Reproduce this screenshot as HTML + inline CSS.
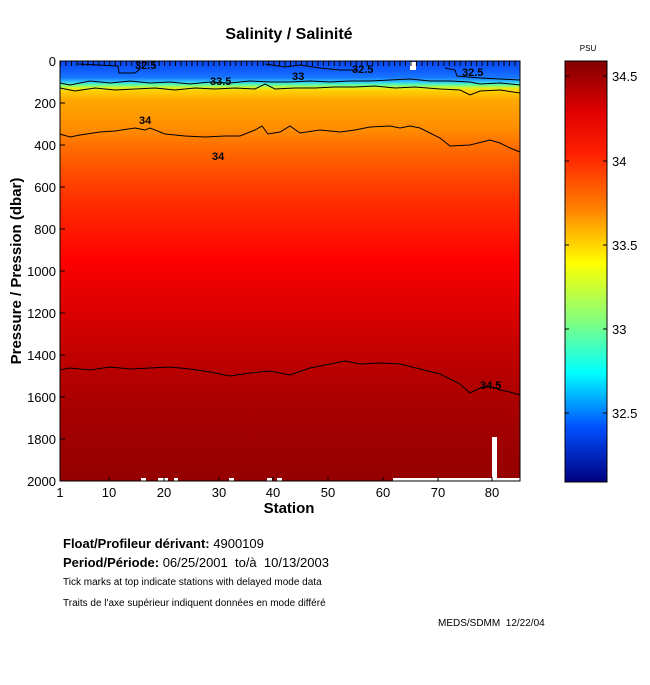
<!DOCTYPE html>
<html><head><meta charset="utf-8"><style>
body{margin:0;background:#fff;}
svg text{font-family:"Liberation Sans",sans-serif;white-space:pre;}
</style></head><body>
<svg width="650" height="680" viewBox="0 0 650 680" xmlns="http://www.w3.org/2000/svg">
<defs>
<linearGradient id="field" x1="0" y1="61" x2="0" y2="481" gradientUnits="userSpaceOnUse">
<stop offset="0" stop-color="#0a48f0"/>
<stop offset="0.025" stop-color="#1060ff"/>
<stop offset="0.04" stop-color="#1878ff"/>
<stop offset="0.05" stop-color="#30c8ff"/>
<stop offset="0.057" stop-color="#60ffa0"/>
<stop offset="0.064" stop-color="#e0f020"/>
<stop offset="0.071" stop-color="#ffd000"/>
<stop offset="0.093" stop-color="#ffa800"/>
<stop offset="0.164" stop-color="#ff8c00"/>
<stop offset="0.2" stop-color="#ff7000"/>
<stop offset="0.26" stop-color="#ff5000"/>
<stop offset="0.33" stop-color="#ff3000"/>
<stop offset="0.426" stop-color="#ff1000"/>
<stop offset="0.474" stop-color="#ff0000"/>
<stop offset="0.545" stop-color="#e80000"/>
<stop offset="0.64" stop-color="#d00000"/>
<stop offset="0.736" stop-color="#b80000"/>
<stop offset="0.855" stop-color="#a40000"/>
<stop offset="1" stop-color="#940000"/>
</linearGradient>
<linearGradient id="cb" x1="0" y1="61" x2="0" y2="482" gradientUnits="userSpaceOnUse">
<stop offset="0" stop-color="#800000"/>
<stop offset="0.12" stop-color="#e00000"/>
<stop offset="0.22" stop-color="#ff2000"/>
<stop offset="0.35" stop-color="#ff8000"/>
<stop offset="0.48" stop-color="#ffff00"/>
<stop offset="0.62" stop-color="#80ff80"/>
<stop offset="0.74" stop-color="#00ffff"/>
<stop offset="0.87" stop-color="#0050ff"/>
<stop offset="1" stop-color="#000080"/>
</linearGradient>
</defs>
<text x="289" y="39" font-size="16" font-weight="bold" text-anchor="middle">Salinity / Salinité</text>
<rect x="60" y="61" width="460" height="420" fill="url(#field)"/>
<rect x="492" y="437" width="5" height="44" fill="#fff"/>
<rect x="393" y="478" width="127" height="3" fill="#fff"/>
<rect x="141" y="478" width="5" height="3" fill="#fff"/>
<rect x="158" y="478" width="10" height="3" fill="#fff"/>
<rect x="174" y="478" width="4" height="3" fill="#fff"/>
<rect x="229" y="478" width="5" height="3" fill="#fff"/>
<rect x="267" y="478" width="5" height="3" fill="#fff"/>
<rect x="277" y="478" width="5" height="3" fill="#fff"/>
<rect x="410" y="62" width="6" height="8" fill="#fff"/>
<g fill="none" stroke="#000" stroke-width="1">
<polyline points="78,64 118,66 119,73 135,73 140,69"/>
<polyline points="265,64 285,67 300,65 320,68 340,70 358,70"/>
<polyline points="445,68 455,70 457,76 480,78 500,79 520,80"/>
<polyline points="60,83 70,85 90,81 110,83 130,81 150,83 170,82 190,84 210,82 230,83 250,81 270,82 290,82 310,81 330,82 350,81 370,81 390,80 410,79 430,81 450,81 470,82 480,84 500,83 520,85"/>
<polyline points="60,88 75,91 95,88 115,90 135,89 155,88 175,90 195,88 215,89 235,88 255,89 265,84 275,89 295,88 315,88 335,87 355,87 375,86 395,88 415,87 440,89 460,90 470,95 480,91 500,90 520,93"/>
<polyline points="60,134 70,137 80,135 100,132 115,131 135,128 145,130 150,128 165,134 185,136 205,137 225,136 240,136 255,130 262,126 268,134 280,132 290,126 300,133 320,130 340,132 355,130 370,127 390,126 400,128 410,126 420,128 440,138 450,146 470,145 490,140 500,143 510,148 520,152"/>
<polyline points="60,370 70,368 90,370 110,367 130,369 150,368 170,367 190,369 210,372 230,376 250,373 270,371 290,375 310,368 330,364 345,361 360,364 380,363 400,364 420,369 440,374 460,384 470,393 480,388 490,386 500,390 510,392 520,395"/>
</g>
<g font-size="11" font-weight="bold" fill="#000">
<text x="135" y="69">32.5</text>
<text x="210" y="85">33.5</text>
<text x="292" y="80">33</text>
<text x="352" y="73">32.5</text>
<text x="462" y="76">32.5</text>
<text x="139" y="124">34</text>
<text x="212" y="160">34</text>
<text x="480" y="389">34.5</text>
</g>
<line x1="60" y1="63.5" x2="520" y2="63.5" stroke="#000" stroke-width="5" stroke-dasharray="1 4.476"/>
<rect x="60" y="61" width="460" height="420" fill="none" stroke="#000" stroke-width="1"/>
<g stroke="#000">
<line x1="60" y1="103" x2="65" y2="103"/><line x1="60" y1="145" x2="65" y2="145"/><line x1="60" y1="187" x2="65" y2="187"/><line x1="60" y1="229" x2="65" y2="229"/><line x1="60" y1="271" x2="65" y2="271"/><line x1="60" y1="313" x2="65" y2="313"/><line x1="60" y1="355" x2="65" y2="355"/><line x1="60" y1="397" x2="65" y2="397"/><line x1="60" y1="439" x2="65" y2="439"/>
<line x1="109" y1="481" x2="109" y2="477"/><line x1="164" y1="481" x2="164" y2="477"/><line x1="219" y1="481" x2="219" y2="477"/><line x1="273" y1="481" x2="273" y2="477"/><line x1="328" y1="481" x2="328" y2="477"/><line x1="383" y1="481" x2="383" y2="477"/><line x1="438" y1="481" x2="438" y2="477"/><line x1="492" y1="481" x2="492" y2="477"/>
</g>
<g font-size="13" text-anchor="end">
<text x="56" y="66">0</text><text x="56" y="108">200</text><text x="56" y="150">400</text><text x="56" y="192">600</text><text x="56" y="234">800</text><text x="56" y="276">1000</text><text x="56" y="318">1200</text><text x="56" y="360">1400</text><text x="56" y="402">1600</text><text x="56" y="444">1800</text><text x="56" y="486">2000</text>
</g>
<g font-size="13" text-anchor="middle">
<text x="60" y="497">1</text><text x="109" y="497">10</text><text x="164" y="497">20</text><text x="219" y="497">30</text><text x="273" y="497">40</text><text x="328" y="497">50</text><text x="383" y="497">60</text><text x="438" y="497">70</text><text x="492" y="497">80</text>
</g>
<text x="289" y="513" font-size="15" font-weight="bold" text-anchor="middle">Station</text>
<text transform="translate(21,271) rotate(-90)" font-size="15" font-weight="bold" text-anchor="middle">Pressure / Pression (dbar)</text>
<text x="588" y="51" font-size="8" text-anchor="middle">PSU</text>
<rect x="565" y="61" width="42" height="421" fill="url(#cb)" stroke="#000"/>
<g stroke="#000">
<line x1="565" y1="76" x2="569" y2="76"/><line x1="603" y1="76" x2="607" y2="76"/>
<line x1="565" y1="161" x2="569" y2="161"/><line x1="603" y1="161" x2="607" y2="161"/>
<line x1="565" y1="245" x2="569" y2="245"/><line x1="603" y1="245" x2="607" y2="245"/>
<line x1="565" y1="329" x2="569" y2="329"/><line x1="603" y1="329" x2="607" y2="329"/>
<line x1="565" y1="413" x2="569" y2="413"/><line x1="603" y1="413" x2="607" y2="413"/>
</g>
<g font-size="13">
<text x="612" y="81">34.5</text><text x="612" y="166">34</text><text x="612" y="250">33.5</text><text x="612" y="334">33</text><text x="612" y="418">32.5</text>
</g>
<text x="63" y="548" font-size="13"><tspan font-weight="bold">Float/Profileur dérivant:</tspan> 4900109</text>
<text x="63" y="567" font-size="13"><tspan font-weight="bold">Period/Période:</tspan> 06/25/2001&#160; to/à&#160; 10/13/2003</text>
<text x="63" y="585" font-size="10">Tick marks at top indicate stations with delayed mode data</text>
<text x="63" y="606" font-size="10">Traits de l'axe supérieur indiquent données en mode différé</text>
<text x="438" y="626" font-size="10">MEDS/SDMM&#160; 12/22/04</text>
</svg>
</body></html>
